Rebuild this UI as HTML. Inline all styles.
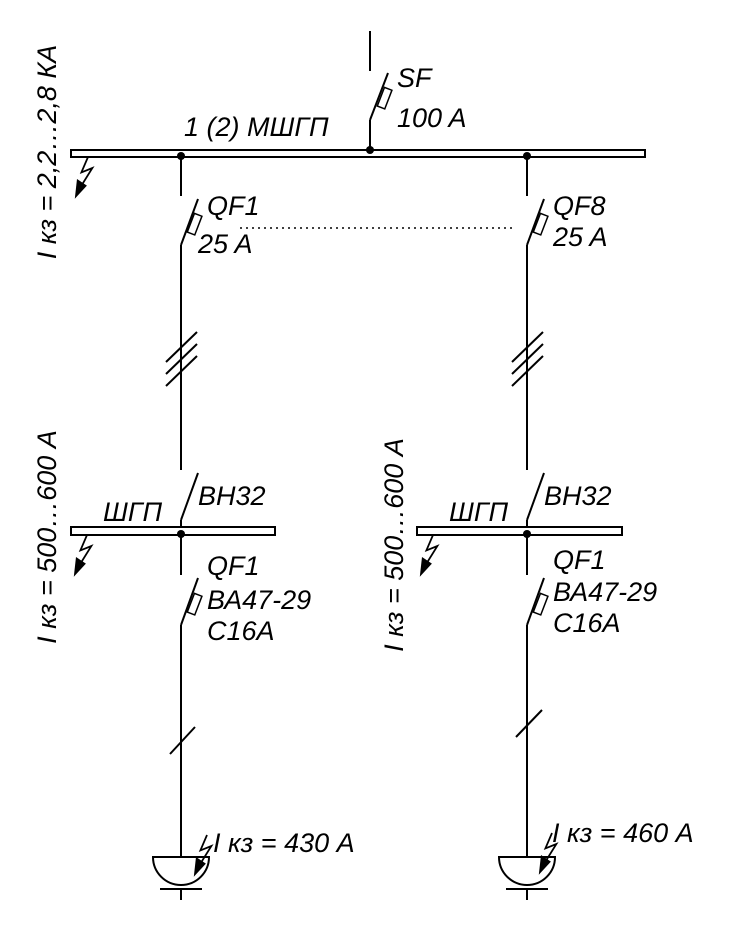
<!DOCTYPE html>
<html><head><meta charset="utf-8"><style>
html,body{margin:0;padding:0;background:#fff;}
svg{display:block;}
text{font-family:"Liberation Sans",sans-serif;font-style:italic;font-size:27px;fill:#000;}
</style></head><body>
<svg width="730" height="932" viewBox="0 0 730 932" xmlns="http://www.w3.org/2000/svg">
<defs>
<g id="bolt">
  <polyline points="0,0 -6,14 4,10 -6,26" fill="none" stroke="#000" stroke-width="1.6"/>
  <polygon points="-12,38 -10,20 -1,26" fill="#000"/>
</g>
<g id="fuse">
  <rect x="2" y="-10" width="8" height="20" fill="#fff" stroke="#000" stroke-width="1.5"/>
</g>
</defs>
<g stroke="#000" stroke-width="2" fill="none">
  <rect x="71" y="150" width="574" height="7" fill="#fff"/>
  <line x1="370" y1="31" x2="370" y2="71"/>
  <line x1="370" y1="120" x2="388" y2="73"/>
  <line x1="370" y1="120" x2="370" y2="151"/>
  <line x1="181" y1="157" x2="181" y2="196"/>
  <line x1="181" y1="245" x2="198" y2="199"/>
  <line x1="181" y1="245" x2="181" y2="470"/>
  <line x1="166" y1="362" x2="197" y2="332"/>
  <line x1="166" y1="374" x2="197" y2="344"/>
  <line x1="166" y1="386" x2="197" y2="356"/>
  <line x1="527" y1="157" x2="527" y2="196"/>
  <line x1="527" y1="245" x2="544" y2="199"/>
  <line x1="527" y1="245" x2="527" y2="470"/>
  <line x1="512" y1="362" x2="543" y2="332"/>
  <line x1="512" y1="374" x2="543" y2="344"/>
  <line x1="512" y1="386" x2="543" y2="356"/>
  <line x1="240" y1="228" x2="515" y2="228" stroke-dasharray="2,4" stroke-width="1.5"/>
  <line x1="181" y1="520" x2="198" y2="473"/>
  <rect x="71" y="527" width="204" height="8" fill="#fff"/>
  <line x1="181" y1="520" x2="181" y2="528"/>
  <line x1="181" y1="535" x2="181" y2="575"/>
  <line x1="181" y1="625" x2="198" y2="578"/>
  <line x1="181" y1="625" x2="181" y2="857"/>
  <line x1="170" y1="754" x2="195" y2="727"/>
  <path d="M153,857 H209 A28,28 0 0 1 153,857 Z" fill="#fff"/>
  <line x1="160" y1="889" x2="202" y2="889"/>
  <line x1="181" y1="889" x2="181" y2="900"/>
  <line x1="527" y1="520" x2="544" y2="473"/>
  <rect x="417" y="527" width="205" height="8" fill="#fff"/>
  <line x1="527" y1="520" x2="527" y2="528"/>
  <line x1="527" y1="535" x2="527" y2="575"/>
  <line x1="527" y1="625" x2="544" y2="578"/>
  <line x1="527" y1="625" x2="527" y2="857"/>
  <line x1="516" y1="737" x2="542" y2="710"/>
  <path d="M499,857 H555 A28,28 0 0 1 499,857 Z" fill="#fff"/>
  <line x1="506" y1="889" x2="548" y2="889"/>
  <line x1="527" y1="889" x2="527" y2="900"/>
</g>
<use href="#fuse" transform="translate(379,96) rotate(21)"/>
<use href="#fuse" transform="translate(189,222) rotate(21)"/>
<use href="#fuse" transform="translate(535,222) rotate(21)"/>
<use href="#fuse" transform="translate(189,602) rotate(21)"/>
<use href="#fuse" transform="translate(535,602) rotate(21)"/>
<g fill="#000">
  <circle cx="370" cy="150" r="4"/>
  <circle cx="181" cy="156" r="4"/>
  <circle cx="527" cy="156" r="4"/>
  <circle cx="181" cy="534" r="4"/>
  <circle cx="527" cy="534" r="4"/>
</g>
<use href="#bolt" transform="translate(88,157) scale(1.1)"/>
<use href="#bolt" transform="translate(87,535) scale(1.1)"/>
<use href="#bolt" transform="translate(433,535) scale(1.1)"/>
<use href="#bolt" transform="translate(207,835) scale(1.1)"/>
<use href="#bolt" transform="translate(552,833) scale(1.1)"/>
<text x="397" y="87">SF</text>
<text x="397" y="127">100 A</text>
<text x="184" y="136">1 (2) МШГП</text>
<text x="207" y="215">QF1</text>
<text x="198" y="253">25 A</text>
<text x="553" y="215">QF8</text>
<text x="553" y="246">25 A</text>
<text x="198" y="505">ВН32</text>
<text x="103" y="521">ШГП</text>
<text x="544" y="505">ВН32</text>
<text x="449" y="521">ШГП</text>
<text x="207" y="575">QF1</text>
<text x="207" y="609">ВА47-29</text>
<text x="207" y="640">C16A</text>
<text x="553" y="569">QF1</text>
<text x="553" y="601">ВА47-29</text>
<text x="553" y="632">C16A</text>
<text x="213" y="852">I кз = 430 A</text>
<text x="552" y="842">I кз = 460 A</text>
<text transform="translate(56,152) rotate(-90)" text-anchor="middle">I кз = 2,2…2,8 КА</text>
<text transform="translate(56,537) rotate(-90)" text-anchor="middle">I кз = 500…600 А</text>
<text transform="translate(403,545) rotate(-90)" text-anchor="middle">I кз = 500…600 А</text>
</svg>
</body></html>
